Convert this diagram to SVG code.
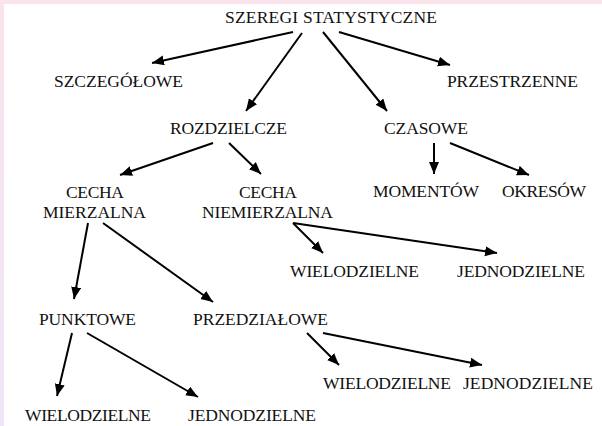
<svg xmlns="http://www.w3.org/2000/svg" width="602" height="426" viewBox="0 0 602 426">
<defs>
<linearGradient id="bg" x1="0" y1="0" x2="0" y2="1">
<stop offset="0" stop-color="#fbe3ec"/>
<stop offset="1" stop-color="#eee6f8"/>
</linearGradient>
<marker id="ah" markerUnits="userSpaceOnUse" markerWidth="14" markerHeight="12" refX="12" refY="5" orient="auto">
<path d="M0,0 L12,5 L0,10 Z" fill="#000"/>
</marker>
<style>
text{font-family:Liberation Serif, DejaVu Serif, Times, serif;font-size:17.5px;fill:#111;}
.c line{stroke:#000;stroke-width:2;marker-end:url(#ah);}
</style>
</defs>
<rect x="0" y="0" width="602" height="426" fill="url(#bg)"/>
<rect x="4" y="4" width="598" height="422" fill="#fff"/>
<g id="root"><text x="225" y="23" textLength="212" lengthAdjust="spacing">SZEREGI STATYSTYCZNE</text></g>
<g id="szczegolowe"><text x="54" y="87" textLength="129">SZCZEGÓŁOWE</text></g>
<g id="przestrzenne"><text x="447" y="87" textLength="131">PRZESTRZENNE</text></g>
<g id="rozdzielcze"><text x="170" y="134" textLength="117">ROZDZIELCZE</text></g>
<g id="czasowe"><text x="384" y="134" textLength="84">CZASOWE</text></g>
<g id="cecha-mierzalna"><text x="66" y="198" textLength="58">CECHA</text><text x="43" y="218" textLength="103">MIERZALNA</text></g>
<g id="cecha-niemierzalna"><text x="239" y="198" textLength="58">CECHA</text><text x="202" y="218" textLength="131">NIEMIERZALNA</text></g>
<g id="momentow"><text x="373" y="197" textLength="106">MOMENTÓW</text></g>
<g id="okresow"><text x="502" y="197" textLength="84">OKRESÓW</text></g>
<g id="wielo-nm"><text x="290" y="277" textLength="129">WIELODZIELNE</text></g>
<g id="jedno-nm"><text x="457" y="277" textLength="128">JEDNODZIELNE</text></g>
<g id="punktowe"><text x="39" y="325" textLength="97">PUNKTOWE</text></g>
<g id="przedzialowe"><text x="193" y="325" textLength="135">PRZEDZIAŁOWE</text></g>
<g id="wielo-prz"><text x="323" y="389" textLength="128">WIELODZIELNE</text></g>
<g id="jedno-prz"><text x="463" y="389" textLength="130">JEDNODZIELNE</text></g>
<g id="wielo-pkt"><text x="25" y="421" textLength="126">WIELODZIELNE</text></g>
<g id="jedno-pkt"><text x="188" y="421" textLength="128">JEDNODZIELNE</text></g>
<g id="connectors" class="c">
<line x1="293" y1="32" x2="152" y2="63"/>
<line x1="302" y1="33" x2="246" y2="111"/>
<line x1="323" y1="32" x2="387" y2="111"/>
<line x1="339" y1="32" x2="450" y2="65"/>
<line x1="213" y1="143" x2="120" y2="175"/>
<line x1="229" y1="143" x2="261" y2="174"/>
<line x1="434" y1="143" x2="434" y2="174"/>
<line x1="450" y1="143" x2="529" y2="175"/>
<line x1="88" y1="223" x2="74" y2="299"/>
<line x1="103" y1="223" x2="213" y2="302"/>
<line x1="293" y1="223" x2="323" y2="253"/>
<line x1="293" y1="223" x2="497" y2="253"/>
<line x1="72" y1="333" x2="57" y2="396"/>
<line x1="87" y1="333" x2="198" y2="397"/>
<line x1="307" y1="333" x2="339" y2="365"/>
<line x1="323" y1="333" x2="482" y2="365"/>
</g>
</svg>
